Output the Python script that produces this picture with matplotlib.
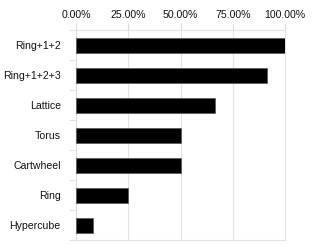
import matplotlib
matplotlib.use("Agg")
import matplotlib.pyplot as plt
from matplotlib.ticker import FuncFormatter, FixedLocator

categories = ["Ring+1+2", "Ring+1+2+3", "Lattice", "Torus", "Cartwheel", "Ring", "Hypercube"]
values = [100.0, 91.5, 66.7, 50.0, 50.0, 25.0, 8.0]
xticks = [0, 25, 50, 75, 100]

plt.rcParams['font.family'] = ['Liberation Sans', 'DejaVu Sans']
fig = plt.figure(figsize=(3.12, 2.46), dpi=100)
ax = fig.add_axes([76/312, 1-240/246, 209/312, 210/246])

n = len(categories)
ypos = list(range(n))
ax.barh(ypos, values, height=0.5, color='black', edgecolor='#555555', linewidth=0.5, zorder=3)
ax.set_ylim(n - 0.5, -0.5)
ax.set_xlim(0, 100)

ax.xaxis.tick_top()
ax.set_xticks(xticks)
ax.xaxis.set_major_formatter(FuncFormatter(lambda v, p: f"{v:.2f}%"))
ax.tick_params(axis='x', which='major', length=5, color='#d9d9d9', labelsize=7.6, pad=2.5, labelcolor='#111111')
ax.grid(axis='x', color='#e3e3e3', linewidth=0.8, zorder=0)

ax.set_yticks(ypos)
ax.set_yticklabels(categories)
ax.tick_params(axis='y', which='major', length=0, labelsize=7.6, pad=11, labelcolor='#111111')
ax.yaxis.set_minor_locator(FixedLocator([i - 0.5 for i in range(n + 1)]))
ax.tick_params(axis='y', which='minor', length=5, color='#d9d9d9')

for side in ['top', 'bottom', 'right']:
    ax.spines[side].set_color('#e3e3e3')
    ax.spines[side].set_linewidth(0.8)
ax.spines['left'].set_color('#d9d9d9')
ax.spines['left'].set_linewidth(0.8)

fig.savefig("out.png", dpi=100)
